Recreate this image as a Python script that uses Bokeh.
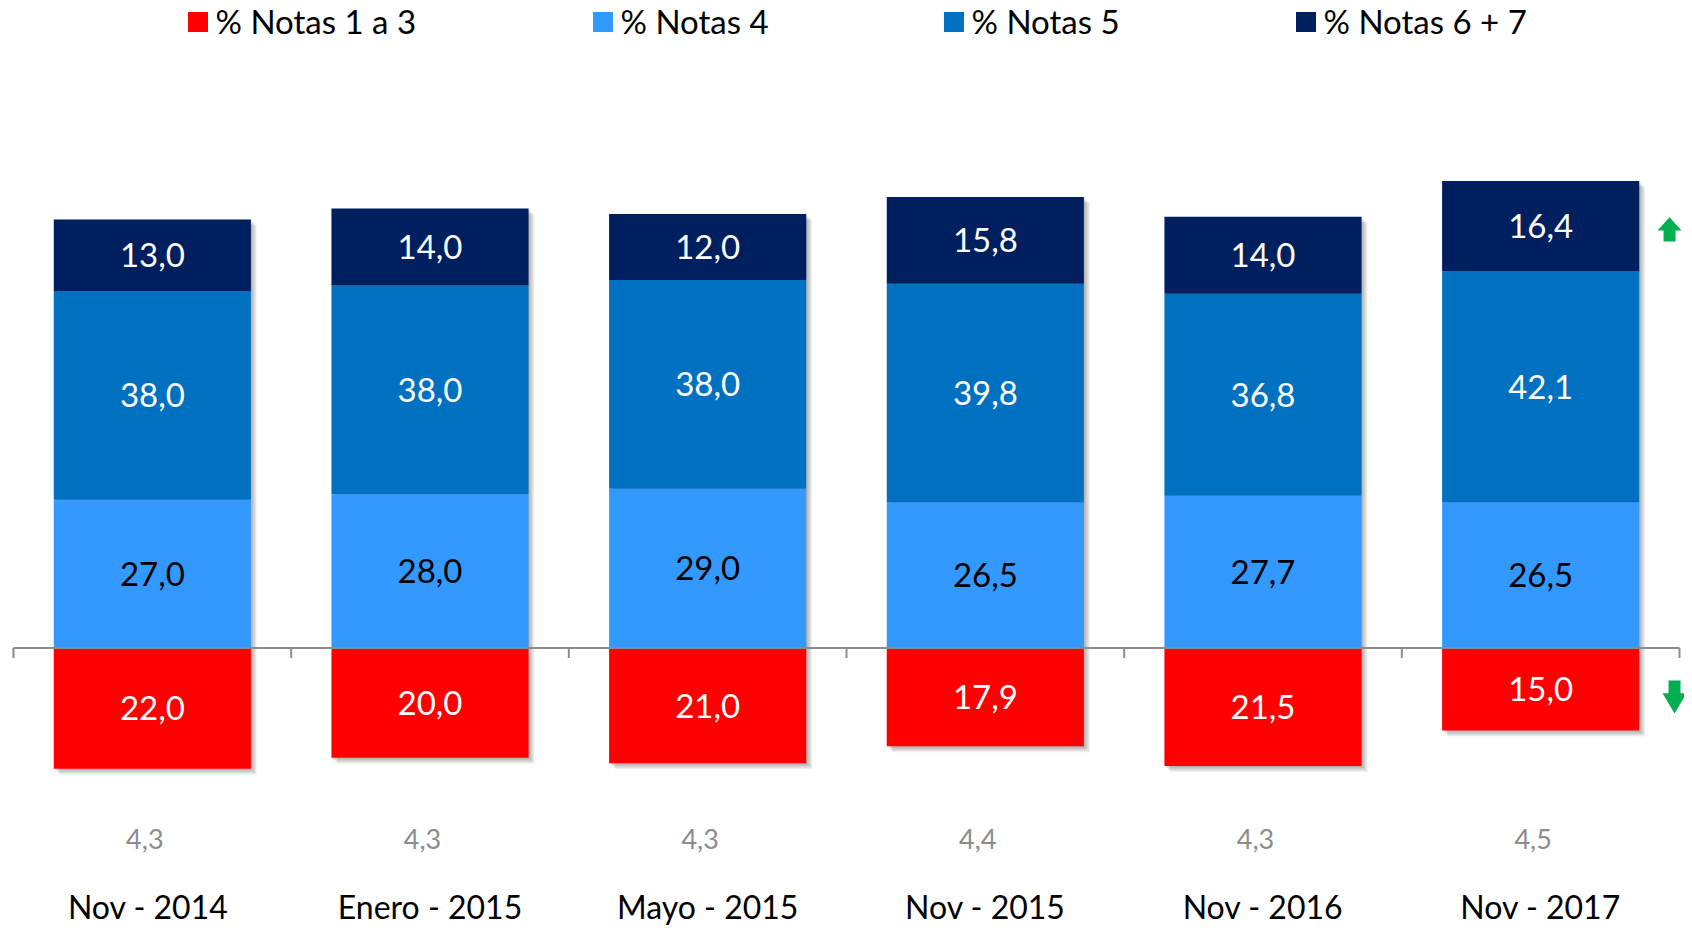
from bokeh.plotting import figure
from bokeh.models import Range1d, Legend, LegendItem
from bokeh.core.properties import value
from bokeh.embed import file_html
from bokeh.resources import INLINE

categories = ["Nov  - 2014", "Enero - 2015", "Mayo - 2015", "Nov - 2015", "Nov - 2016", "Nov - 2017"]
notas_1_3 = [22.0, 20.0, 21.0, 17.9, 21.5, 15.0]
notas_4 = [27.0, 28.0, 29.0, 26.5, 27.7, 26.5]
notas_5 = [38.0, 38.0, 38.0, 39.8, 36.8, 42.1]
notas_6_7 = [13.0, 14.0, 12.0, 15.8, 14.0, 16.4]
promedio = [4.3, 4.3, 4.3, 4.4, 4.3, 4.5]
series_names = ["% Notas 1 a 3", "% Notas 4", "% Notas 5", "% Notas 6 + 7"]
colors = ["#FF0000", "#3399FF", "#0070C0", "#001F5F"]
label_colors = ["#FFFFFF", "#000000", "#FFFFFF", "#FFFFFF"]

FONT = "Lato"
W, H = 1684, 932
X_PX = 1666 / 6.0       # pixels per category
Y_PX = 5.493            # pixels per percent
AXIS_Y = 647.5          # pixel row of the zero line
pad_l = 13 / X_PX
pad_r = 5 / X_PX
y_top = AXIS_Y / Y_PX
y_bot = -(H - AXIS_Y) / Y_PX
bar_w = 0.71


def fmt(v):
    return f"{v:.1f}".replace(".", ",")


p = figure(width=W, height=H, x_range=Range1d(-pad_l, 6 + pad_r), y_range=Range1d(y_bot, y_top),
           output_backend="svg", toolbar_location=None, x_axis_location=None, y_axis_location=None,
           min_border=0, outline_line_color=None, background_fill_color="white",
           border_fill_color="white")
p.xgrid.grid_line_color = None
p.ygrid.grid_line_color = None

n = len(categories)
xs = [i + 0.5 for i in range(n)]
b5 = [a + b for a, b in zip(notas_4, notas_5)]
tot = [a + b for a, b in zip(b5, notas_6_7)]
neg = [-v for v in notas_1_3]

# soft drop shadow
for k in range(1, 7):
    p.vbar(x=[x + k / X_PX for x in xs], width=bar_w,
           bottom=[v - k / Y_PX for v in neg], top=[t - k / Y_PX for t in tot],
           fill_color="#000000", fill_alpha=0.055, line_color=None)

r1 = p.vbar(x=xs, width=bar_w, bottom=neg, top=0, fill_color=colors[0], line_color=None)
r2 = p.vbar(x=xs, width=bar_w, bottom=0, top=notas_4, fill_color=colors[1], line_color=None)
r3 = p.vbar(x=xs, width=bar_w, bottom=notas_4, top=b5, fill_color=colors[2], line_color=None)
r4 = p.vbar(x=xs, width=bar_w, bottom=b5, top=tot, fill_color=colors[3], line_color=None)

# axis line + ticks at category boundaries
p.segment(x0=[0], y0=[0], x1=[n], y1=[0], line_color="#8C8C8C", line_width=2)
bounds = list(range(n + 1))
p.segment(x0=bounds, y0=[0] * (n + 1), x1=bounds, y1=[-10 / Y_PX] * (n + 1),
          line_color="#8C8C8C", line_width=2)

# segment labels
centers = [
    [-v / 2 for v in notas_1_3],
    [v / 2 for v in notas_4],
    [a + b / 2 for a, b in zip(notas_4, notas_5)],
    [a + b / 2 for a, b in zip(b5, notas_6_7)],
]
vals = [notas_1_3, notas_4, notas_5, notas_6_7]
for cy, vv, col in zip(centers, vals, label_colors):
    p.text(x=xs, y=cy, text=[fmt(v) for v in vv], text_align="center", text_baseline="middle",
           text_font=value(FONT), text_font_size="33px", text_color=col)

# average values
p.text(x=xs, y=[-191 / Y_PX] * n, text=[fmt(v) for v in promedio], x_offset=-7.5,
       text_align="center", text_baseline="middle", text_font=value(FONT),
       text_font_size="27px", text_color="#8C8C8C")

# category labels
p.text(x=xs, y=[-258 / Y_PX] * n, text=categories, text_align="center", text_baseline="middle",
       text_font=value(FONT), text_font_size="32px", text_color="#000000")

# green arrows next to last bar
right = xs[-1] + bar_w / 2
ucx = right + 30.3 / X_PX
ucy = tot[-1] - notas_6_7[-1] / 2 - 3.4 / Y_PX
up_pts = [(-12, 1), (0, -12.3), (12, 1), (6, 1), (6, 12), (-6, 12), (-6, 1)]
dcx = right + 35.3 / X_PX
dcy = -notas_1_3[-1] / 2 - 7.8 / Y_PX
dn_pts = [(-6, -16.5), (6, -16.5), (6, -3.8), (12, -3.8), (0, 16.5), (-12, -3.8), (-6, -3.8)]
p.patches(xs=[[ucx + dx / X_PX for dx, dy in up_pts], [dcx + dx / X_PX for dx, dy in dn_pts]],
          ys=[[ucy - dy / Y_PX for dx, dy in up_pts], [dcy - dy / Y_PX for dx, dy in dn_pts]],
          fill_color="#00B050", line_color=None)

# legend (one block per entry)
leg_x = [184.5, 589.5, 940.5, 1292.5]
for name, r, lx in zip(series_names, [r1, r2, r3, r4], leg_x):
    leg = Legend(items=[LegendItem(label=name, renderers=[r])], location=(lx, 891),
                 orientation="horizontal", glyph_width=25, glyph_height=25, label_standoff=6,
                 padding=0, margin=0, border_line_color=None, background_fill_alpha=0,
                 label_text_font=FONT, label_text_font_size="33px", label_text_color="#000000")
    p.add_layout(leg)

open("out.html", "w").write(file_html(p, INLINE))
